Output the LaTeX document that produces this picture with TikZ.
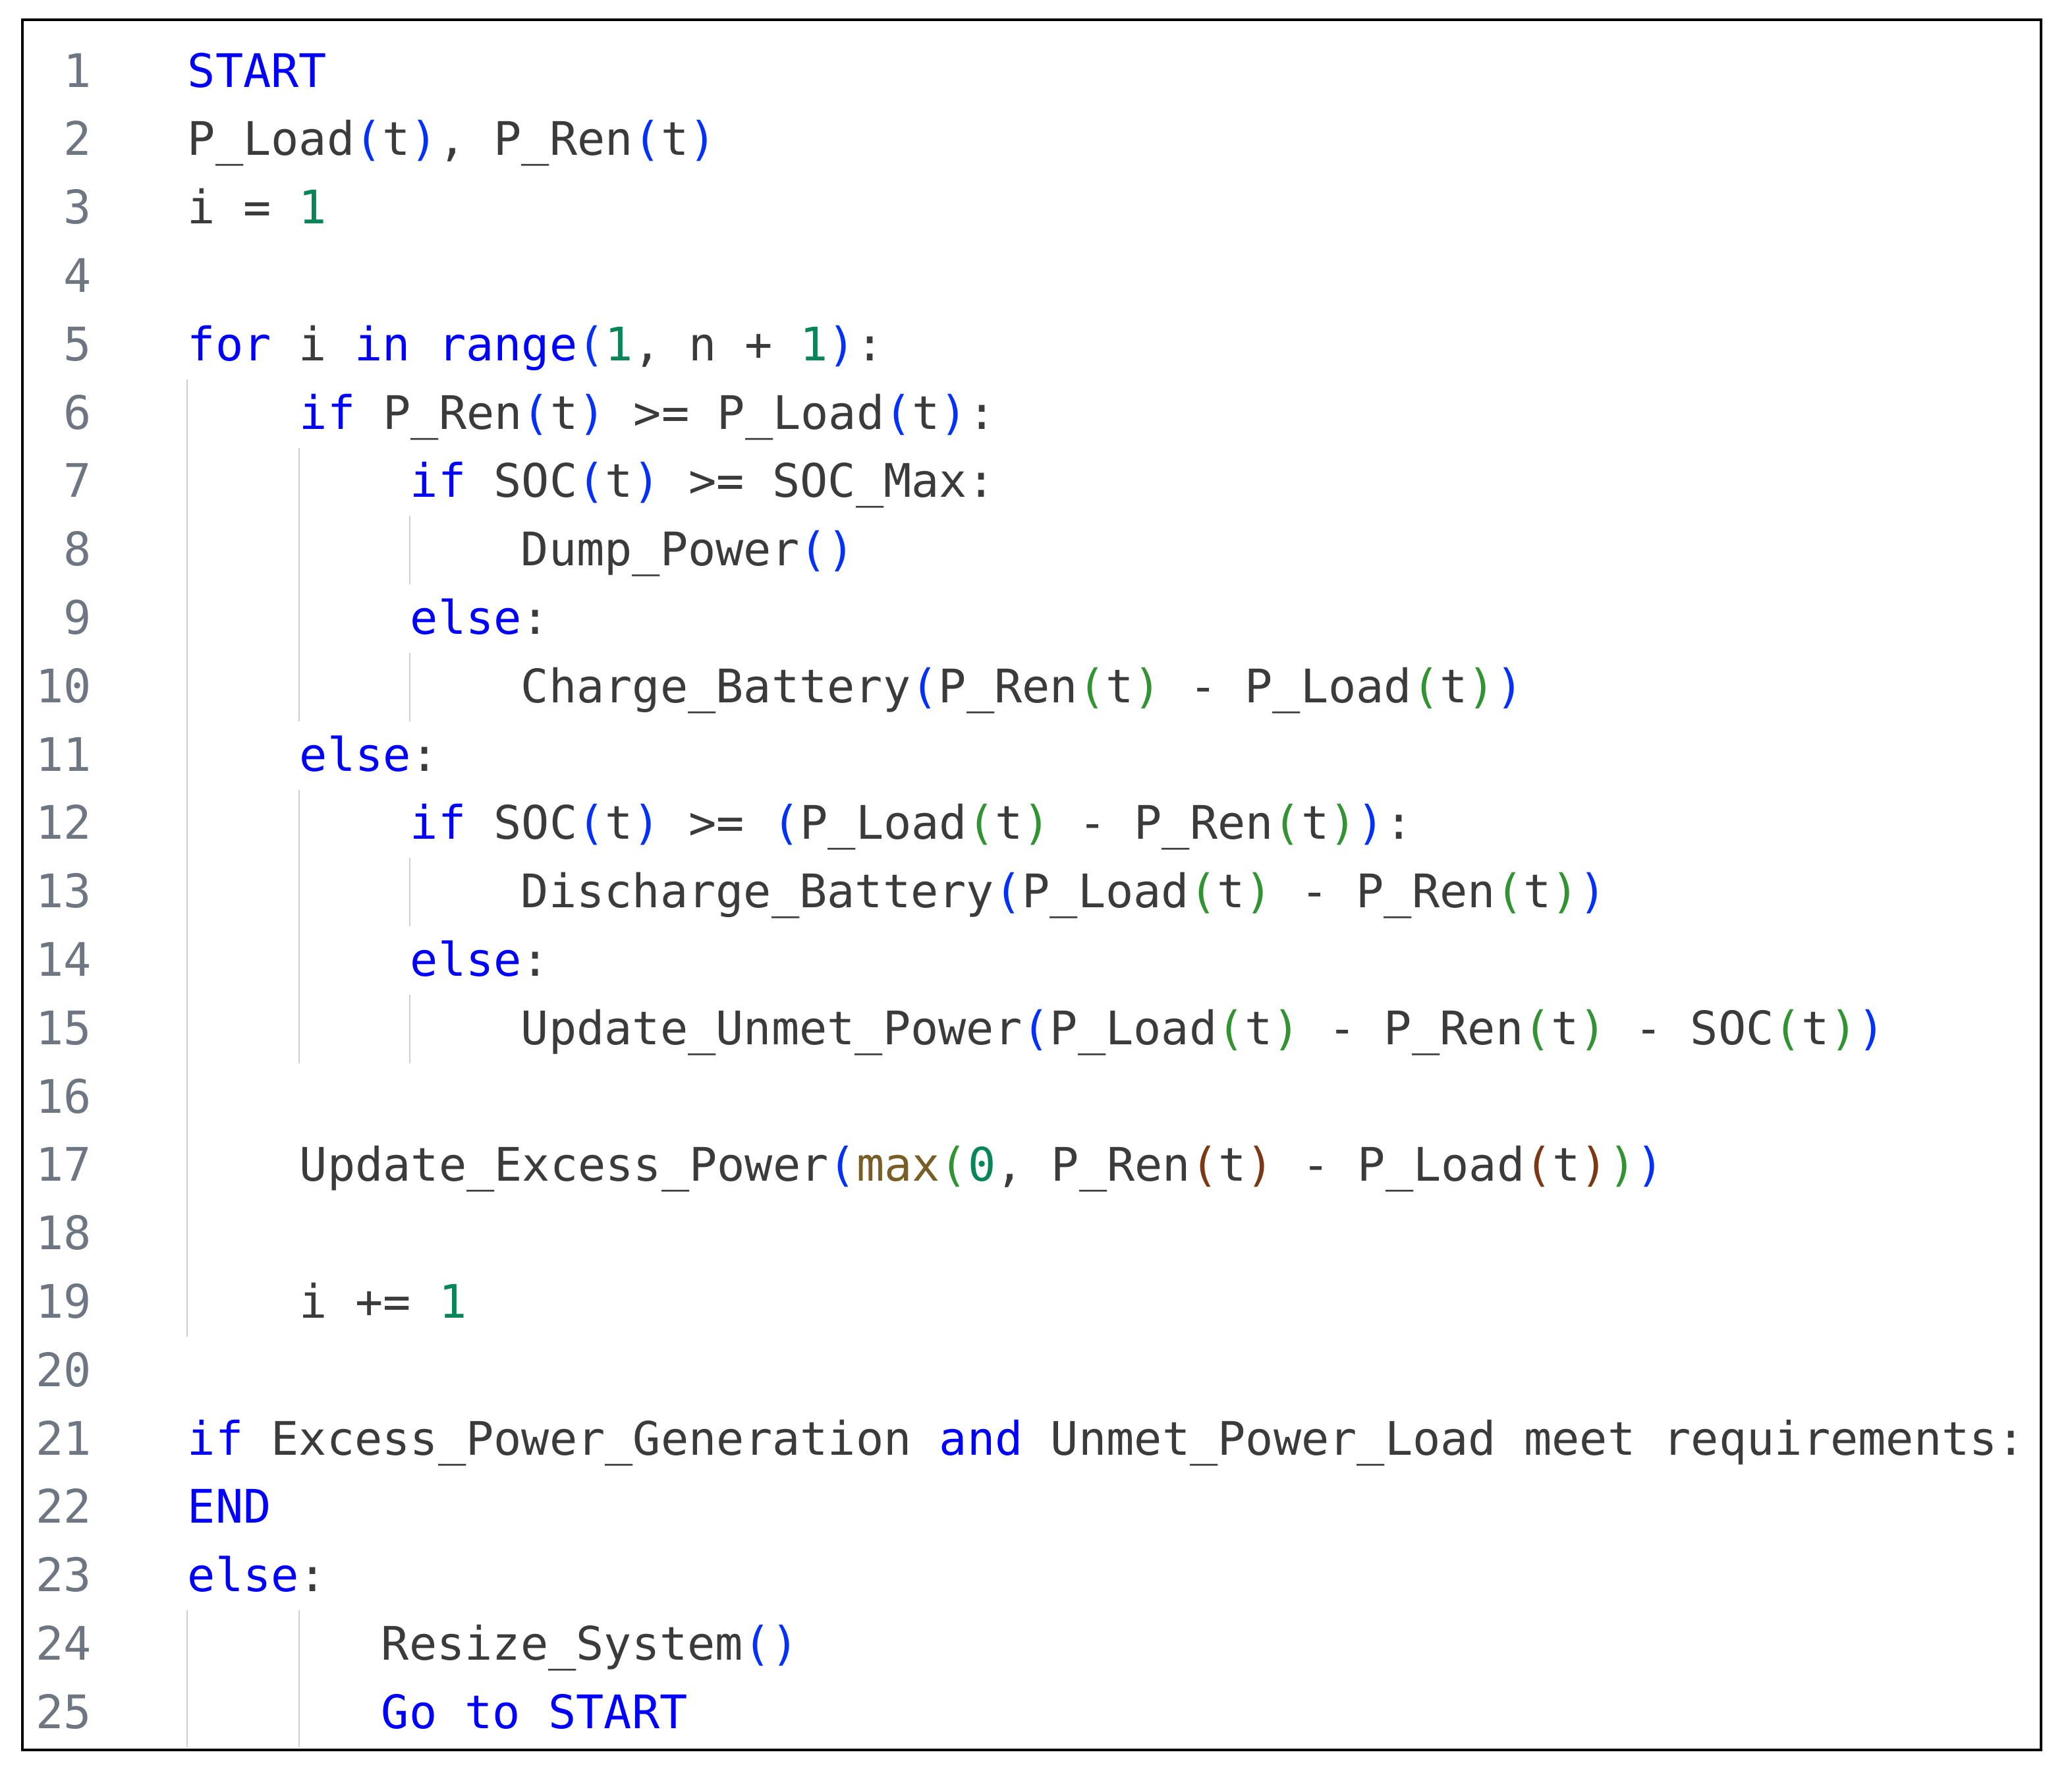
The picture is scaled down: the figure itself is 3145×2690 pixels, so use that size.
\documentclass[tikz,border=0pt]{standalone}
\usepackage{fontspec}
\setmonofont{DejaVu Sans Mono}
\definecolor{txt}{HTML}{3B3B3B}
\definecolor{lnum}{HTML}{6E7681}
\definecolor{kwc}{HTML}{0000FF}
\definecolor{numc}{HTML}{098658}
\definecolor{pac}{HTML}{0431FA}
\definecolor{pbc}{HTML}{319331}
\definecolor{pcc}{HTML}{7B3814}
\definecolor{fnc}{HTML}{795E26}
\definecolor{guide}{HTML}{D0D0D0}
\newcommand{\K}[1]{\textcolor{kwc}{#1}}
\newcommand{\N}[1]{\textcolor{numc}{#1}}
\newcommand{\pa}[1]{\textcolor{pac}{#1}}
\newcommand{\pb}[1]{\textcolor{pbc}{#1}}
\newcommand{\pc}[1]{\textcolor{pcc}{#1}}
\newcommand{\F}[1]{\textcolor{fnc}{#1}}
\begin{document}
\begin{tikzpicture}[x=0.25pt,y=-0.25pt,
  code/.style={anchor=base west,inner sep=0,text=txt,font=\ttfamily\fontsize{17.55}{20}\selectfont},
  lno/.style={anchor=base east,inner sep=0,text=lnum,font=\ttfamily\fontsize{17.55}{20}\selectfont},
  guideline/.style={draw=guide,line width=0.5pt}]
\useasboundingbox (0,0) rectangle (3145,2690);
\fill[white] (0,0) rectangle (3145,2690);
\draw[line width=0.8pt] (34,30) rectangle (3098,2656);
% line numbers
\foreach \k in {1,...,25}{
  \node[lno] (n\k) at (140,{103.8*\k+28.2}) {\k};
}
% indent guides
\coordinate (g0a) at (284,{103.8*6-47});  \coordinate (g0b) at (284,{103.8*20-47});
\draw[guideline] (g0a) -- (g0b);
\coordinate (g1a) at (454,{103.8*7-47});  \coordinate (g1b) at (454,{103.8*11-47});
\draw[guideline] (g1a) -- (g1b);
\coordinate (g2a) at (454,{103.8*12-47}); \coordinate (g2b) at (454,{103.8*16-47});
\draw[guideline] (g2a) -- (g2b);
\coordinate (g3a) at (622,{103.8*8-47});  \coordinate (g3b) at (622,{103.8*9-47});
\draw[guideline] (g3a) -- (g3b);
\coordinate (g4a) at (622,{103.8*10-47}); \coordinate (g4b) at (622,{103.8*11-47});
\draw[guideline] (g4a) -- (g4b);
\coordinate (g5a) at (622,{103.8*13-47}); \coordinate (g5b) at (622,{103.8*14-47});
\draw[guideline] (g5a) -- (g5b);
\coordinate (g6a) at (622,{103.8*15-47}); \coordinate (g6b) at (622,{103.8*16-47});
\draw[guideline] (g6a) -- (g6b);
\coordinate (g7a) at (284,{103.8*24-47}); \coordinate (g7b) at (284,2652);
\draw[guideline] (g7a) -- (g7b);
\coordinate (g8a) at (454,{103.8*24-47}); \coordinate (g8b) at (454,2652);
\draw[guideline] (g8a) -- (g8b);
% code
\node[code] (l1) at (284,{103.8*1+28.2}) {\K{START}};
\node[code] (l2) at (284,{103.8*2+28.2}) {P\_Load\pa{(}t\pa{)}, P\_Ren\pa{(}t\pa{)}};
\node[code] (l3) at (284,{103.8*3+28.2}) {i = \N{1}};
\node[code] (l5) at (284,{103.8*5+28.2}) {\K{for} i \K{in} \K{range}\pa{(}\N{1}, n + \N{1}\pa{)}:};
\node[code] (l6) at (454,{103.8*6+28.2}) {\K{if} P\_Ren\pa{(}t\pa{)} >= P\_Load\pa{(}t\pa{)}:};
\node[code] (l7) at (622,{103.8*7+28.2}) {\K{if} SOC\pa{(}t\pa{)} >= SOC\_Max:};
\node[code] (l8) at (790,{103.8*8+28.2}) {Dump\_Power\pa{(}\pa{)}};
\node[code] (l9) at (622,{103.8*9+28.2}) {\K{else}:};
\node[code] (l10) at (790,{103.8*10+28.2}) {Charge\_Battery\pa{(}P\_Ren\pb{(}t\pb{)} - P\_Load\pb{(}t\pb{)}\pa{)}};
\node[code] (l11) at (454,{103.8*11+28.2}) {\K{else}:};
\node[code] (l12) at (622,{103.8*12+28.2}) {\K{if} SOC\pa{(}t\pa{)} >= \pa{(}P\_Load\pb{(}t\pb{)} - P\_Ren\pb{(}t\pb{)}\pa{)}:};
\node[code] (l13) at (790,{103.8*13+28.2}) {Discharge\_Battery\pa{(}P\_Load\pb{(}t\pb{)} - P\_Ren\pb{(}t\pb{)}\pa{)}};
\node[code] (l14) at (622,{103.8*14+28.2}) {\K{else}:};
\node[code] (l15) at (790,{103.8*15+28.2}) {Update\_Unmet\_Power\pa{(}P\_Load\pb{(}t\pb{)} - P\_Ren\pb{(}t\pb{)} - SOC\pb{(}t\pb{)}\pa{)}};
\node[code] (l17) at (454,{103.8*17+28.2}) {Update\_Excess\_Power\pa{(}\F{max}\pb{(}\N{0}, P\_Ren\pc{(}t\pc{)} - P\_Load\pc{(}t\pc{)}\pb{)}\pa{)}};
\node[code] (l19) at (454,{103.8*19+28.2}) {i += \N{1}};
\node[code] (l21) at (284,{103.8*21+28.2}) {\K{if} Excess\_Power\_Generation \K{and} Unmet\_Power\_Load meet requirements:};
\node[code] (l22) at (284,{103.8*22+28.2}) {\K{END}};
\node[code] (l23) at (284,{103.8*23+28.2}) {\K{else}:};
\node[code] (l24) at (578,{103.8*24+28.2}) {Resize\_System\pa{(}\pa{)}};
\node[code] (l25) at (578,{103.8*25+28.2}) {\K{Go to START}};
\end{tikzpicture}
\end{document}
